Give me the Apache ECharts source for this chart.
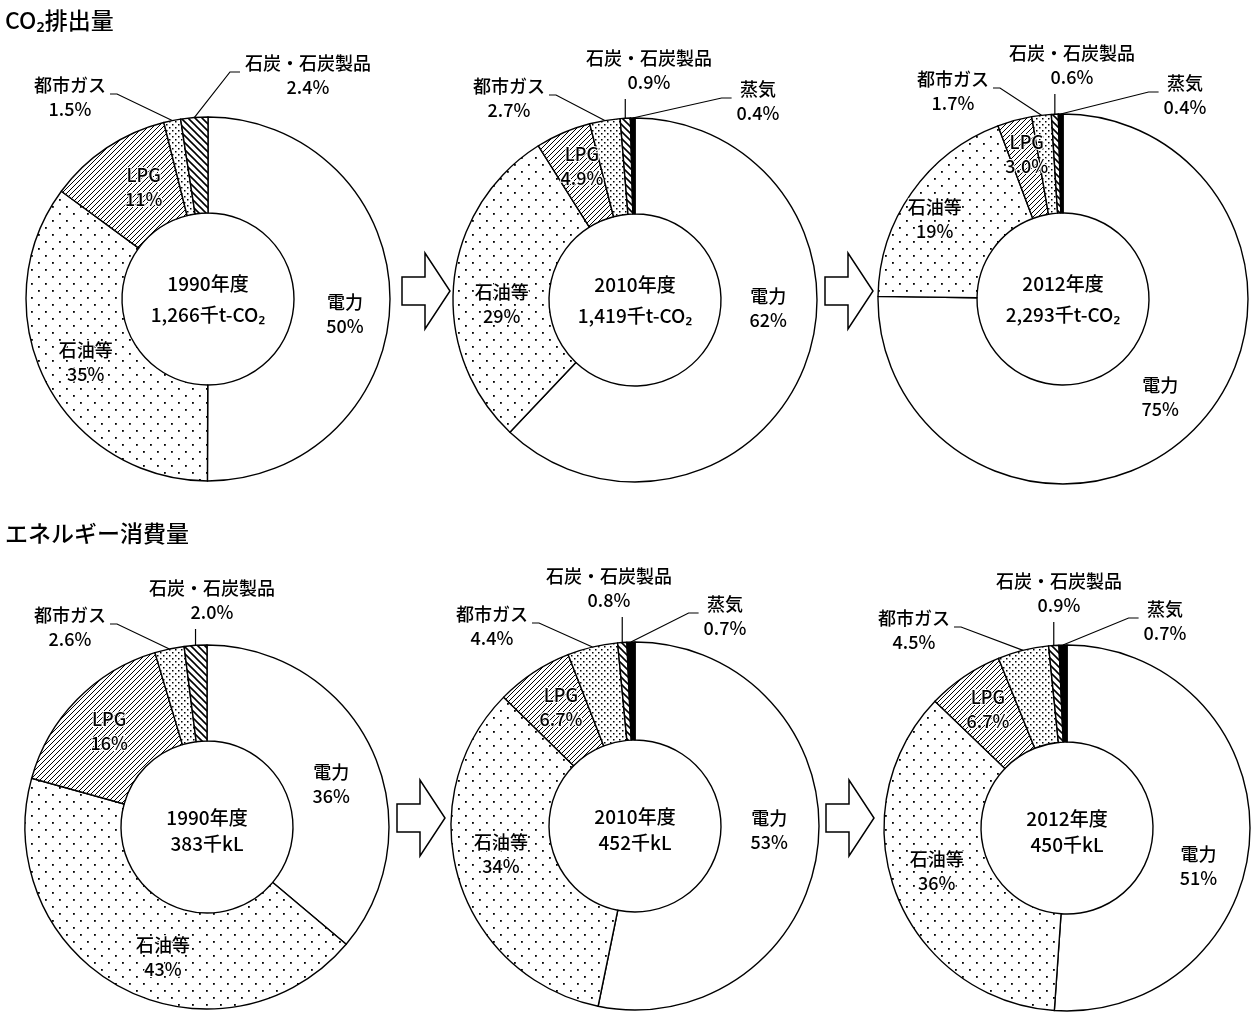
<!DOCTYPE html>
<html><head><meta charset="utf-8">
<script src="https://cdn.jsdelivr.net/npm/echarts@6/dist/echarts.min.js"></script>
<style>html,body{margin:0;padding:0;background:#fff}#c{width:1257px;height:1022px}</style>
</head><body><div id="c"></div>
<script>
// ---------- DATA ----------
const categories = ['電力', '石油等', 'LPG', '都市ガス', '石炭・石炭製品', '蒸気'];
const co2_1990 = [50, 35, 11, 1.5, 2.4, null];
const co2_2010 = [62, 29, 4.9, 2.7, 0.9, 0.4];
const co2_2012 = [75, 19, 3.0, 1.7, 0.6, 0.4];
const energy_1990 = [36, 43, 16, 2.6, 2.0, null];
const energy_2010 = [53, 34, 6.7, 4.4, 0.8, 0.7];
const energy_2012 = [51, 36, 6.7, 4.5, 0.9, 0.7];
const years = ['1990年度', '2010年度', '2012年度'];
const co2Totals = ['1,266千t-CO₂', '1,419千t-CO₂', '2,293千t-CO₂'];
const energyTotals = ['383千kL', '452千kL', '450千kL'];
const sectionTitles = ['CO₂排出量', 'エネルギー消費量'];

// ---------- LAYOUT ----------
const FONT = "'Noto Sans CJK JP', 'Noto Sans', sans-serif";
const centers = [[208, 299], [635, 300], [1063, 299], [207, 827], [635, 826], [1067, 828]];
const outerR = [182, 182, 185, 182, 184, 183];
const innerR = 86;
const LH = 24;
// outside label placement: category index -> [dx, dy from pie centre, style]
const outSpec = [
  {3: [-138, -202, 'L'], 4: [100, -224, 'R']},
  {3: [-126, -202, 'L'], 4: [14, -230, 'B'], 5: [123, -199, 'R']},
  {3: [-110, -208, 'L'], 4: [9, -234, 'B'], 5: [122, -204, 'R']},
  {3: [-137, -200, 'L'], 4: [5, -227, 'B']},
  {3: [-143, -200, 'L'], 4: [-26, -238, 'B'], 5: [90, -210, 'R']},
  {3: [-153, -198, 'L'], 4: [-8, -235, 'B'], 5: [98, -207, 'R']}
];
// inside label nudges for 電力, 石油等, LPG
const inShift = [
  [[0, 15], [0, 1], [12, 2]],
  [[6, -43], [3, 18], [1, -8]],
  [[0, 0], [-15, 0], [0, -11]],
  [[0, 15], [20, 9], [0, 0]],
  [[-3, -10], [-2, -12], [2, -4]],
  [[-6, 33], [-2, -6], [-2, -5]]
];
const arrows = [[402, 291], [825, 291], [397, 818], [826, 818]];

// ---------- PATTERNS ----------
function mk(s, draw) {
  const c = document.createElement('canvas');
  c.width = s; c.height = s;
  const g = c.getContext('2d');
  g.fillStyle = '#fff'; g.fillRect(0, 0, s, s);
  g.fillStyle = '#000'; g.strokeStyle = '#000';
  draw(g, s);
  return {image: c, repeat: 'repeat'};
}
const patterns = [
  '#ffffff',
  mk(14, (g) => { g.fillRect(3, 3, 1.8, 1.8); g.fillRect(10, 10, 1.8, 1.8); }),
  mk(5, (g, s) => { g.lineWidth = 1; g.beginPath();
    g.moveTo(0, s); g.lineTo(s, 0); g.moveTo(-1, 1); g.lineTo(1, -1); g.moveTo(s - 1, s + 1); g.lineTo(s + 1, s - 1); g.stroke(); }),
  mk(6, (g) => { g.fillRect(1, 1, 1.5, 1.5); g.fillRect(4, 4, 1.5, 1.5); }),
  mk(7, (g, s) => { g.lineWidth = 1.6; g.beginPath();
    g.moveTo(0, 0); g.lineTo(s, s); g.moveTo(s - 1, -1); g.lineTo(s + 1, 1); g.moveTo(-1, s - 1); g.lineTo(1, s + 1); g.stroke(); }),
  '#000000'
];

function fmt(v) { return v < 10 ? v.toFixed(1) : v.toFixed(0); }

const sets = [co2_1990, co2_2010, co2_2012, energy_1990, energy_2010, energy_2012];

function makeLayout(k, items) {
  return function (p) {
    const it = items[p.dataIndex];
    const c = centers[k];
    if (it.out) {
      const [ox, oy, st] = it.out;
      const w = p.labelRect.width, h = p.labelRect.height;
      const cx = c[0] + ox, cy = c[1] + oy;
      const top = cy - h / 2, left = cx - w / 2, right = cx + w / 2, bottom = cy + h / 2;
      const p0 = p.labelLinePoints ? p.labelLinePoints[0] : [c[0], c[1] - outerR[k]];
      const fl = top + LH - 3;
      let pts;
      if (st === 'L') { const e = [right + 3, fl]; pts = [p0, [e[0] + 7, e[1]], e]; }
      else if (st === 'R') { const e = [left - 4, fl]; pts = [p0, [e[0] - 10, e[1]], e]; }
      else { const e = [p0[0], bottom + 5]; pts = [p0, e, e]; }
      return {x: cx, y: cy, align: 'center', verticalAlign: 'middle', labelLinePoints: pts};
    }
    const sh = it.shift || [0, 0];
    return {dx: sh[0], dy: sh[1]};
  };
}

const series = sets.map((vals, k) => {
  const items = [];
  vals.forEach((v, i) => {
    if (v == null) return;
    const spec = outSpec[k][i];
    items.push({
      name: categories[i], value: v, out: spec || null, shift: i < 3 ? inShift[k][i] : null,
      itemStyle: {color: patterns[i]},
      label: spec ? {position: 'outside'} : {position: 'inside'},
      labelLine: {show: !!spec}
    });
  });
  return {
    type: 'pie', center: centers[k], radius: [innerR, outerR[k]],
    startAngle: 90, clockwise: true, avoidLabelOverlap: false, silent: true,
    minShowLabelAngle: 0,
    itemStyle: {borderColor: '#000', borderWidth: 1.4},
    label: {show: true, color: '#000', fontFamily: FONT, fontSize: 18, fontWeight: 500, lineHeight: LH,
      align: 'center', textBorderColor: '#fff', textBorderWidth: 2,
      formatter: (p) => p.name + '\n' + fmt(p.value) + '%'},
    labelLine: {show: true, length: 10, length2: 10, lineStyle: {color: '#000', width: 1.2}},
    labelLayout: makeLayout(k, items),
    emphasis: {disabled: true},
    data: items.map(it => ({name: it.name, value: it.value, itemStyle: it.itemStyle, label: it.label, labelLine: it.labelLine}))
  };
});

const graphic = [];
sectionTitles.forEach((t, i) => {
  graphic.push({type: 'text', x: 5, y: i === 0 ? 20 : 533,
    style: {text: t, font: '500 23px ' + FONT, fill: '#000', textAlign: 'left', textVerticalAlign: 'middle', align: 'left', verticalAlign: 'middle'}});
});
centers.forEach((c, k) => {
  const row = k < 3 ? 0 : 1;
  const yr = years[k % 3];
  const tot = row === 0 ? co2Totals[k % 3] : energyTotals[k % 3];
  const d1 = row === 0 ? -15 : -9, d2 = row === 0 ? 16 : 17;
  [[yr, d1], [tot, d2]].forEach(([t, d]) => {
    graphic.push({type: 'text', x: c[0], y: c[1] + d,
      style: {text: t, font: '500 19px ' + FONT, fill: '#000', textAlign: 'center', textVerticalAlign: 'middle', align: 'center', verticalAlign: 'middle'}});
  });
});
arrows.forEach(([x, cy]) => {
  graphic.push({type: 'polygon',
    shape: {points: [[x, cy - 14], [x + 23, cy - 14], [x + 23, cy - 38], [x + 48, cy], [x + 23, cy + 38], [x + 23, cy + 14], [x, cy + 14]]},
    style: {fill: '#fff', stroke: '#000', lineWidth: 1.5}});
});

const chart = echarts.init(document.getElementById('c'), null, {renderer: 'canvas'});
chart.setOption({animation: false, backgroundColor: '#fff', series: series, graphic: graphic});
</script>
</body></html>
